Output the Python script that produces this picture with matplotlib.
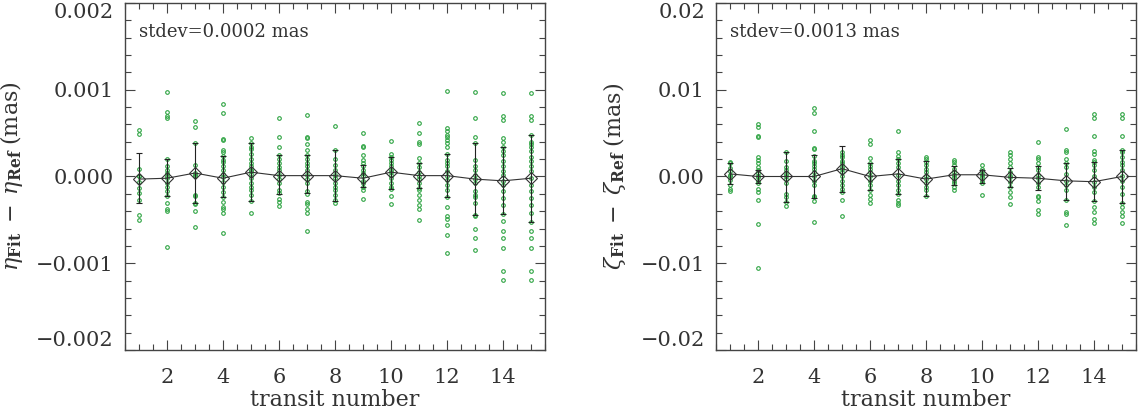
import numpy as np
import matplotlib
matplotlib.use("Agg")
import matplotlib.pyplot as plt
from matplotlib.ticker import MultipleLocator, FuncFormatter

transits = list(range(1, 16))

# eta residuals per transit, units of 1e-3 mas
eta_points = [
    [0.54, 0.49, 0.09, 0.01, 0.0, -0.06, -0.13, -0.19, -0.27, -0.44, -0.50],
    [0.97, 0.74, 0.70, 0.67, 0.20, 0.12, 0.08, 0.04, 0.0, -0.02, -0.07, -0.12, -0.17, -0.23, -0.30, -0.38, -0.40, -0.81],
    [0.64, 0.57, 0.39, 0.13, 0.04, 0.02, 0.0, -0.21, -0.23, -0.30, -0.32, -0.40, -0.58],
    [0.83, 0.73, 0.43, 0.42, 0.31, 0.28, 0.24, 0.19, 0.17, 0.12, 0.07, 0.03, -0.01, -0.06, -0.12, -0.18, -0.24, -0.29, -0.35, -0.37, -0.42, -0.65],
    [0.44, 0.39, 0.34, 0.32, 0.26, 0.20, 0.16, 0.12, 0.08, 0.06, 0.03, -0.02, -0.07, -0.12, -0.16, -0.21, -0.28, -0.42],
    [0.68, 0.45, 0.34, 0.25, 0.20, 0.15, 0.11, 0.07, 0.02, -0.03, -0.08, -0.15, -0.19, -0.26, -0.29, -0.34],
    [0.71, 0.46, 0.44, 0.37, 0.31, 0.25, 0.20, 0.15, 0.12, 0.08, 0.02, -0.03, -0.08, -0.17, -0.20, -0.29, -0.32, -0.38, -0.42, -0.63],
    [0.58, 0.31, 0.20, 0.13, 0.08, 0.02, -0.02, -0.07, -0.12, -0.16, -0.21, -0.27, -0.31],
    [0.50, 0.35, 0.34, 0.25, 0.19, 0.15, 0.12, 0.08, 0.04, 0.0, -0.05, -0.08, -0.12, -0.16, -0.26],
    [0.41, 0.26, 0.23, 0.19, 0.15, 0.12, 0.08, 0.05, 0.02, -0.02, -0.07, -0.12, -0.14, -0.22, -0.32],
    [0.62, 0.50, 0.40, 0.38, 0.21, 0.15, 0.11, 0.05, 0.01, -0.03, -0.08, -0.13, -0.15, -0.21, -0.27, -0.33, -0.38, -0.50],
    [0.99, 0.56, 0.52, 0.48, 0.45, 0.42, 0.39, 0.34, 0.26, 0.19, 0.15, 0.12, 0.06, 0.01, -0.04, -0.10, -0.15, -0.24, -0.35, -0.46, -0.49, -0.56, -0.67, -0.88],
    [0.97, 0.67, 0.45, 0.39, 0.19, 0.12, 0.08, 0.02, -0.03, -0.08, -0.17, -0.21, -0.24, -0.30, -0.44, -0.46, -0.60, -0.71, -0.85],
    [0.96, 0.70, 0.65, 0.44, 0.40, 0.34, 0.29, 0.25, 0.18, 0.12, 0.06, 0.02, -0.05, -0.10, -0.17, -0.25, -0.33, -0.43, -0.51, -0.63, -0.71, -0.82, -1.09, -1.19],
    [0.96, 0.70, 0.65, 0.48, 0.40, 0.38, 0.34, 0.29, 0.23, 0.18, 0.12, 0.06, -0.02, -0.10, -0.17, -0.25, -0.33, -0.42, -0.52, -0.63, -0.71, -0.82, -1.09, -1.19],
]
eta_mean = [-0.03, -0.02, 0.04, -0.02, 0.05, 0.01, 0.01, 0.01, -0.02, 0.05, 0.01, 0.01, -0.03, -0.05, -0.02]
eta_err_top = [0.27, 0.20, 0.39, 0.24, 0.39, 0.25, 0.25, 0.30, 0.13, 0.23, 0.15, 0.26, 0.39, 0.34, 0.48]
eta_err_bot = [-0.31, -0.23, -0.31, -0.24, -0.28, -0.20, -0.19, -0.28, -0.12, -0.14, -0.13, -0.24, -0.44, -0.43, -0.52]

# zeta residuals per transit, units of 1e-2 mas
zeta_points = [
    [0.17, 0.15, 0.10, 0.06, 0.02, 0.0, -0.04, -0.10, -0.14, -0.17],
    [0.61, 0.57, 0.47, 0.45, 0.23, 0.19, 0.15, 0.11, 0.07, 0.04, 0.01, -0.01, -0.05, -0.08, -0.14, -0.18, -0.27, -0.55, -1.06],
    [0.28, 0.18, 0.11, 0.07, 0.03, 0.0, -0.03, -0.07, -0.20, -0.24, -0.29, -0.34],
    [0.79, 0.73, 0.52, 0.33, 0.32, 0.24, 0.18, 0.15, 0.12, 0.09, 0.05, 0.0, -0.05, -0.10, -0.22, -0.24, -0.28, -0.52],
    [0.28, 0.25, 0.22, 0.18, 0.15, 0.11, 0.09, 0.05, 0.01, -0.05, -0.10, -0.14, -0.18, -0.27, -0.46],
    [0.42, 0.38, 0.21, 0.15, 0.12, 0.09, 0.05, 0.0, -0.05, -0.10, -0.15, -0.21, -0.26, -0.30],
    [0.52, 0.28, 0.24, 0.20, 0.15, 0.11, 0.02, -0.05, -0.10, -0.16, -0.20, -0.27, -0.30, -0.33],
    [0.23, 0.20, 0.17, 0.13, 0.09, 0.05, 0.01, -0.03, -0.08, -0.12, -0.16, -0.22],
    [0.19, 0.17, 0.13, 0.09, 0.05, 0.02, -0.01, -0.05, -0.08, -0.12, -0.16],
    [0.13, 0.09, 0.06, 0.03, 0.02, -0.01, -0.05, -0.08, -0.21],
    [0.28, 0.25, 0.20, 0.16, 0.11, 0.05, 0.01, -0.01, -0.06, -0.12, -0.18, -0.24, -0.32],
    [0.40, 0.22, 0.20, 0.15, 0.11, 0.07, 0.02, -0.02, -0.07, -0.12, -0.22, -0.24, -0.28, -0.39, -0.43],
    [0.55, 0.31, 0.28, 0.20, 0.15, 0.11, 0.03, -0.05, -0.10, -0.16, -0.27, -0.41, -0.43, -0.56],
    [0.72, 0.68, 0.47, 0.29, 0.26, 0.19, 0.17, 0.13, 0.07, 0.01, -0.06, -0.12, -0.18, -0.28, -0.35, -0.41, -0.49, -0.54],
    [0.72, 0.68, 0.47, 0.31, 0.28, 0.22, 0.17, 0.13, 0.07, 0.0, -0.05, -0.12, -0.20, -0.31, -0.35, -0.41, -0.45, -0.54],
]
zeta_mean = [0.03, 0.0, 0.0, 0.0, 0.09, 0.0, 0.03, -0.03, 0.02, 0.02, -0.01, -0.02, -0.05, -0.06, 0.0]
zeta_err_top = [0.15, 0.08, 0.28, 0.25, 0.35, 0.15, 0.20, 0.18, 0.12, 0.08, 0.10, 0.12, 0.15, 0.17, 0.31]
zeta_err_bot = [-0.09, -0.08, -0.29, -0.25, -0.18, -0.15, -0.20, -0.22, -0.10, -0.08, -0.12, -0.15, -0.27, -0.28, -0.31]

panels = [
    (eta_points, eta_mean, eta_err_top, eta_err_bot, 1e-3, 0.002, 0.001, 0.0002, 3,
     r'$\eta_{\mathbf{Fit}}\;-\;\eta_{\mathbf{Ref}}\;$(mas)', 'stdev=0.0002 mas'),
    (zeta_points, zeta_mean, zeta_err_top, zeta_err_bot, 1e-2, 0.02, 0.01, 0.002, 2,
     r'$\zeta_{\mathbf{Fit}}\;-\;\zeta_{\mathbf{Ref}}\;$(mas)', 'stdev=0.0013 mas'),
]

plt.rcParams['font.family'] = 'DejaVu Serif'
plt.rcParams['mathtext.fontset'] = 'dejavuserif'
axis_col = '#444444'
text_col = '#333333'
green = '#2fa443'

fig = plt.figure(figsize=(11.38, 4.09), dpi=100)
lefts = [125 / 1138, 716 / 1138]
label_x = [-0.238, -0.21]


def make_fmt(nd):
    def f(v, pos):
        s = f'{abs(v):.{nd}f}'
        if v < -1e-12:
            s = '\u2212' + s
        return s
    return FuncFormatter(f)


for i, (pts, mean, etop, ebot, unit, lim, major, minor, nd, ylab, stdtxt) in enumerate(panels):
    ax = fig.add_axes([lefts[i], 1 - 350 / 409, 420 / 1138, 347 / 409])
    for t, vals in zip(transits, pts):
        v = np.array(vals) * unit
        ax.plot(np.full(len(v), t), v, 'o', ms=2.6, mfc='none', mec=green, mew=0.8, zorder=2)
    m = np.array(mean) * unit
    yerr = [m - np.array(ebot) * unit, np.array(etop) * unit - m]
    ax.errorbar(transits, m, yerr=yerr, fmt='none', ecolor='#222222', elinewidth=0.8,
                capsize=2.5, capthick=0.8, zorder=3)
    ax.plot(transits, m, '-', color='#333333', lw=0.8, zorder=4)
    ax.plot(transits, m, 'D', ms=6, mfc='none', mec='#333333', mew=0.8, zorder=5)

    ax.set_xlim(0.5, 15.5)
    ax.set_ylim(-lim, lim)
    ax.set_xticks([2, 4, 6, 8, 10, 12, 14])
    ax.xaxis.set_minor_locator(MultipleLocator(0.5))
    ax.set_yticks([-lim, -major, 0, major, lim])
    ax.yaxis.set_minor_locator(MultipleLocator(minor))
    ax.yaxis.set_major_formatter(make_fmt(nd))
    ax.tick_params(which='both', direction='in', top=True, right=True, color=axis_col,
                   labelcolor=text_col, labelsize=15)
    ax.tick_params(which='major', length=7, width=0.8, pad=8)
    ax.tick_params(which='minor', length=4, width=0.8)
    ax.tick_params(axis='x', which='major', pad=13)
    for s in ax.spines.values():
        s.set_color(axis_col)
        s.set_linewidth(1.0)

    # keep the end labels inside the figure, like the reference
    fig.canvas.draw()
    ylabels = ax.get_yticklabels()
    ylabels[0].set_va('bottom')
    ylabels[-1].set_va('top')

    ax.set_ylabel(ylab, fontsize=16, color=text_col)
    ax.yaxis.set_label_coords(label_x[i], 0.5)
    ax.text(0.5, -0.176, 'transit number', transform=ax.transAxes, fontsize=16,
            color=text_col, ha='center', va='bottom')
    ax.text(0.033, 0.915, stdtxt, transform=ax.transAxes, fontsize=13, color=text_col,
            ha='left', va='center')

fig.savefig('out.png', dpi=100)
